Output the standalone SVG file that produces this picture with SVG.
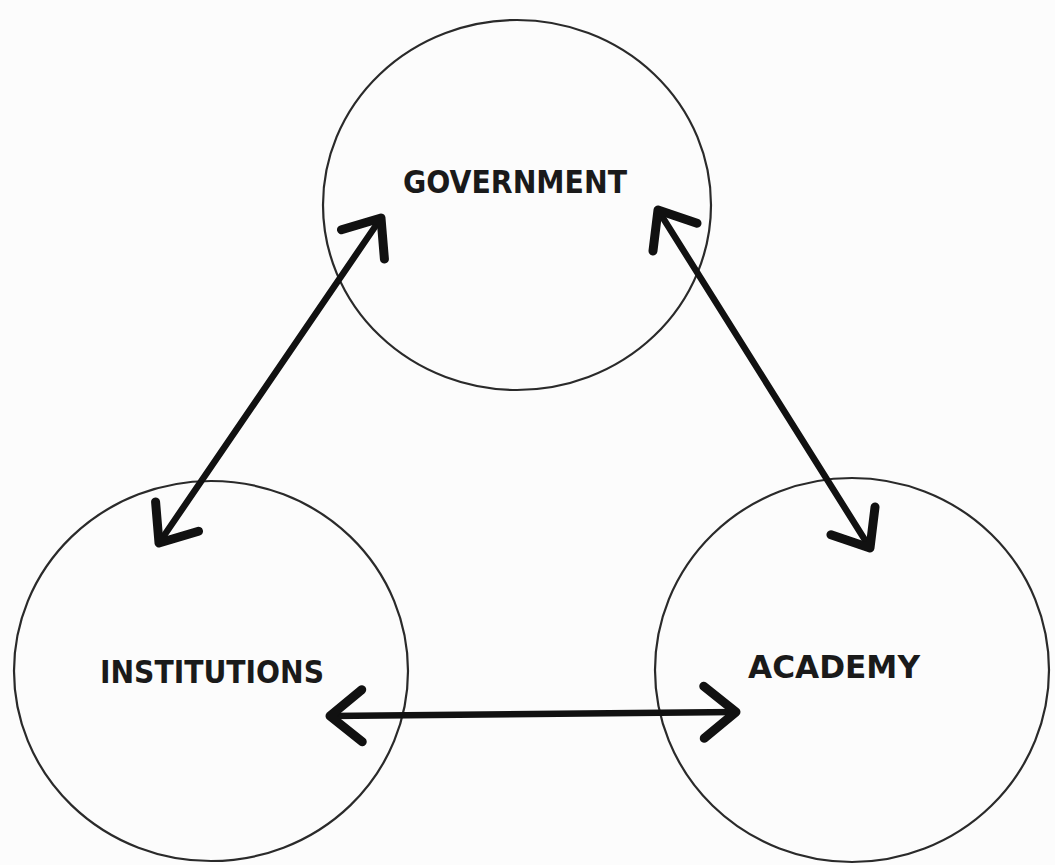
<svg xmlns="http://www.w3.org/2000/svg" width="1055" height="865" viewBox="0 0 1055 865">
<style>
.node{fill:none;stroke:#2a2a2a;stroke-width:2.2}
.lbl{font-family:"DejaVu Sans Condensed","DejaVu Sans",sans-serif;font-weight:bold;fill:#1a1a1a;text-anchor:middle}
.conn{stroke:#111;stroke-width:6.5;stroke-linecap:round;fill:none}
</style>
<defs>
<marker id="ah" viewBox="0 0 40 40" refX="38" refY="20" markerWidth="40" markerHeight="40" markerUnits="userSpaceOnUse" orient="auto-start-reverse" overflow="visible">
<path d="M6,-6 L38,20 L6,46" fill="none" stroke="#111" stroke-width="9" stroke-linecap="round" stroke-linejoin="round"/>
</marker>
</defs>
<rect width="1055" height="865" fill="#fcfcfc"/>
<g id="government">
<ellipse class="node" cx="517" cy="205" rx="194" ry="185"/>
<text class="lbl" x="515" y="193" font-size="32" textLength="224" lengthAdjust="spacingAndGlyphs">GOVERNMENT</text>
</g>
<g id="institutions">
<ellipse class="node" cx="211" cy="671" rx="197" ry="190"/>
<text class="lbl" x="212" y="683" font-size="32" textLength="224" lengthAdjust="spacingAndGlyphs">INSTITUTIONS</text>
</g>
<g id="academy">
<ellipse class="node" cx="852" cy="670" rx="197" ry="192"/>
<text class="lbl" x="834" y="678" font-size="32" textLength="172" lengthAdjust="spacingAndGlyphs">ACADEMY</text>
</g>
<g id="connectors">
<line class="conn" x1="381" y1="218" x2="159" y2="543" marker-start="url(#ah)" marker-end="url(#ah)"/>
<line class="conn" x1="658" y1="210" x2="870" y2="548" marker-start="url(#ah)" marker-end="url(#ah)"/>
<line class="conn" x1="330" y1="716" x2="736" y2="712" marker-start="url(#ah)" marker-end="url(#ah)"/>
</g>
</svg>
